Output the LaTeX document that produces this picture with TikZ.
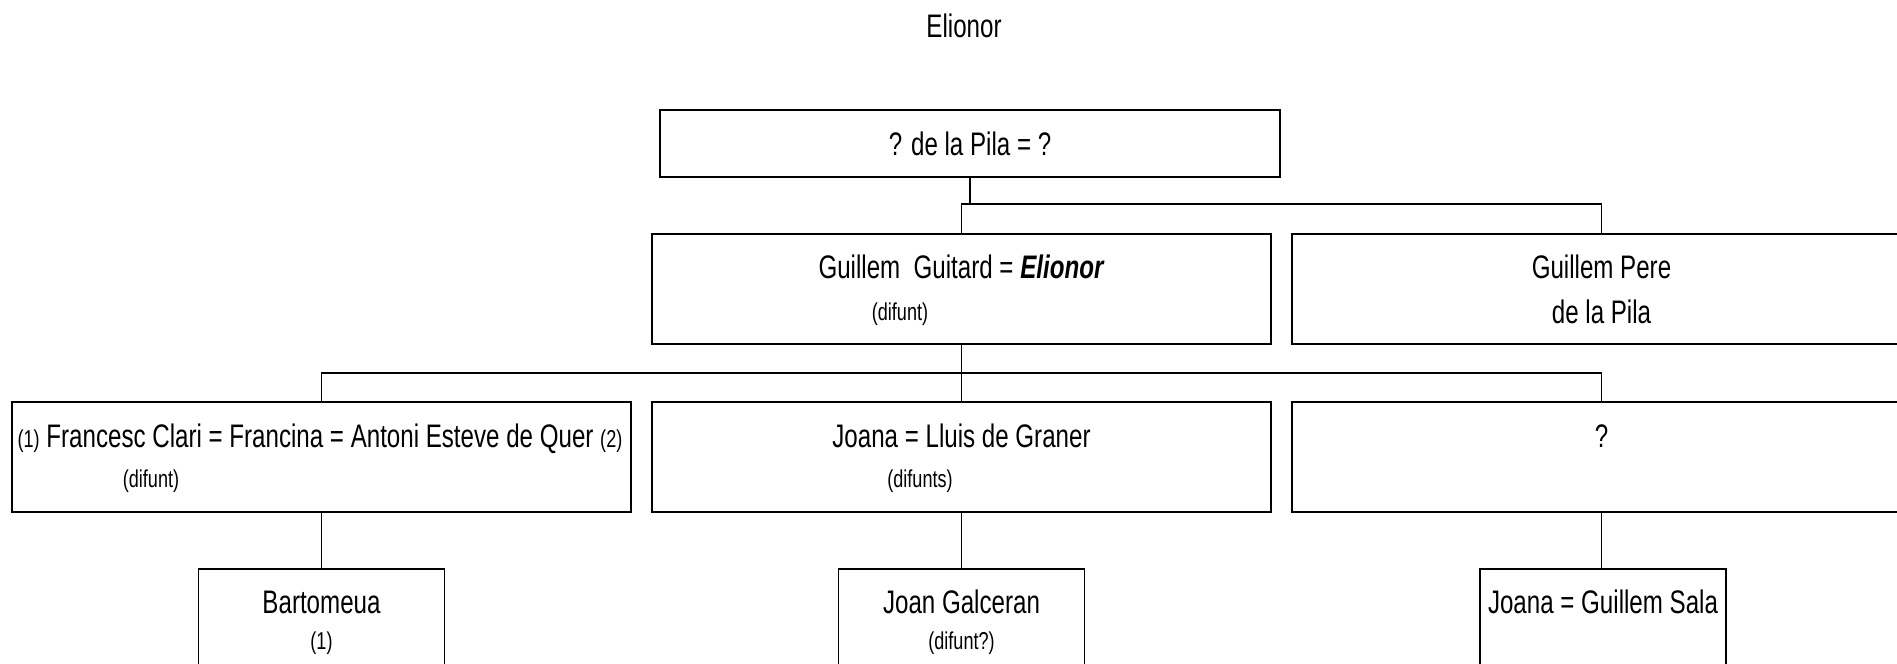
\documentclass[tikz,border=0pt]{standalone}
\usepackage{fontspec}
\setmainfont[FakeStretch=0.74]{Liberation Sans}
\newcommand{\mainsz}{\fontsize{16.3}{19}\selectfont}
\newcommand{\notesz}{\fontsize{12.2}{14}\selectfont}

\begin{document}
\begin{tikzpicture}[x=0.5pt, y=-0.5pt]
  \tikzset{
    famblock/.style={draw, line width=1pt, inner sep=0pt, minimum width=309.5pt, minimum height=55pt},
    topblock/.style={famblock, minimum width=310pt, minimum height=33.5pt},
    kidblock/.style={draw, line width=0.9pt, inner sep=0pt, minimum width=123pt, minimum height=55pt},
    maintxt/.style={font=\mainsz, anchor=base, inner sep=0pt},
    notetxt/.style={font=\notesz, anchor=base, inner sep=0pt},
    lnk/.style={line width=0.9pt},
  }

  % frame of the page
  \useasboundingbox (0,0) rectangle (1897,664);
  \clip (0,0) rectangle (1897,664);

  % title
  \node[maintxt] (title) at (964,38) {Elionor};

  % generation 0
  \node[topblock] (pila) at (970,143.5) {};
  \node[maintxt] (pila_t) at (970,155) {? de la Pila = ?};

  % generation 1
  \node[famblock] (guitard) at (961.5,289) {};
  \node[maintxt] (guitard_t) at (961.5,278) {Guillem~~Guitard = \textbf{\textit{Elionor}}};
  \node[notetxt] (guitard_n) at (900,320) {(difunt)};

  \node[famblock] (pere) at (1601.5,289) {};
  \node[maintxt] (pere_t) at (1601.5,278) {Guillem Pere};
  \node[maintxt] (pere_t2) at (1601.5,323) {de la Pila};

  % generation 2
  \node[famblock] (clari) at (321.5,457) {};
  \node[maintxt] (clari_t) at (320,447)
    {{\notesz(1)} Francesc Clari = Francina = Antoni Esteve de Quer {\notesz(2)}};
  \node[notetxt] (clari_n) at (151,487) {(difunt)};

  \node[famblock] (graner) at (961.5,457) {};
  \node[maintxt] (graner_t) at (961.5,447) {Joana = Lluis de Graner};
  \node[notetxt] (graner_n) at (920,487) {(difunts)};

  \node[famblock] (unknown) at (1601.5,457) {};
  \node[maintxt] (unknown_t) at (1601.5,447) {?};

  % generation 3
  \node[kidblock] (bartomeua) at (321.5,624) {};
  \node[maintxt] (bartomeua_t) at (321.5,613) {Bartomeua};
  \node[notetxt] (bartomeua_n) at (321.5,649) {(1)};

  \node[kidblock] (galceran) at (961.5,624) {};
  \node[maintxt] (galceran_t) at (961.5,613) {Joan Galceran};
  \node[notetxt] (galceran_n) at (961.5,649) {(difunt?)};

  \node[kidblock] (sala) at (1603,624) {};
  \node[maintxt] (sala_t) at (1603,613) {Joana = Guillem Sala};

  % links
  \coordinate (j1) at (970,204);
  \coordinate (j2) at (961.5,373);
  \draw[lnk] (pila.south) -- (j1);
  \draw[lnk] (guitard.north) |- (j1) -| (pere.north);
  \draw[lnk] (guitard.south) -- (graner.north);
  \draw[lnk] (clari.north) |- (j2) -| (unknown.north);
  \draw[lnk] (clari.south) -- (bartomeua.north);
  \draw[lnk] (graner.south) -- (galceran.north);
  \draw[lnk] (unknown.south) -- (unknown.south |- sala.north);
\end{tikzpicture}
\end{document}
